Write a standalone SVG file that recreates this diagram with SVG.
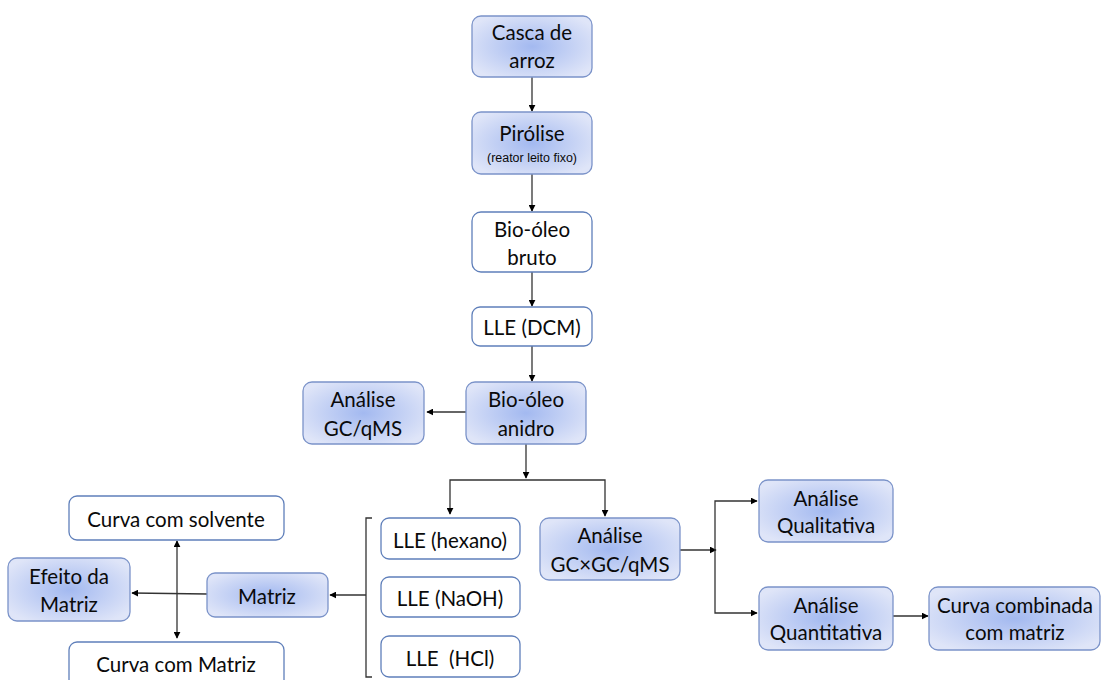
<svg xmlns="http://www.w3.org/2000/svg" width="1103" height="680" viewBox="0 0 1103 680">
<defs>
<radialGradient id="g" cx="50%" cy="50%" r="60%">
<stop offset="0" stop-color="#a3b9f0"/>
<stop offset="1" stop-color="#dfe5f8"/>
</radialGradient>
<marker id="a" viewBox="0 0 10 10" refX="9" refY="5" markerWidth="7" markerHeight="7" orient="auto-start-reverse" markerUnits="userSpaceOnUse">
<path d="M0,0 L10,5 L0,10 z" fill="#000"/>
</marker>
<style>
.b{fill:url(#g);stroke:#7b93c9;stroke-width:1.3}
.w{fill:#fff;stroke:#5f7fba;stroke-width:1.3}
text{font-family:Lato,"Open Sans","Liberation Sans",sans-serif;font-size:20.5px;fill:#0a0a0a;text-anchor:middle;dominant-baseline:central}
.c{stroke:#333;stroke-width:1.3;fill:none}
.s{font-family:"Liberation Sans",sans-serif;font-size:12px}
</style>
</defs>
<rect width="1103" height="680" fill="#fff"/>
<g id="connectors">
<line class="c" x1="532" y1="77" x2="532" y2="111" marker-end="url(#a)"/>
<line class="c" x1="532" y1="174" x2="532" y2="211" marker-end="url(#a)"/>
<line class="c" x1="532" y1="272" x2="532" y2="306" marker-end="url(#a)"/>
<line class="c" x1="532" y1="346" x2="532" y2="381" marker-end="url(#a)"/>
<line class="c" x1="466" y1="412" x2="427" y2="412" marker-end="url(#a)"/>
<line class="c" x1="526" y1="444" x2="526" y2="478" marker-end="url(#a)"/>
<polyline class="c" points="450,514 450,480 605,480 605,516" marker-start="url(#a)" marker-end="url(#a)"/>
<polyline class="c" points="372,518 366,518 366,677 372,677"/>
<line class="c" x1="366" y1="595" x2="330" y2="595" marker-end="url(#a)"/>
<line class="c" x1="207" y1="594" x2="132" y2="593" marker-end="url(#a)"/>
<line class="c" x1="177" y1="541" x2="177" y2="638" marker-start="url(#a)" marker-end="url(#a)"/>
<line class="c" x1="680" y1="550" x2="716" y2="550" marker-end="url(#a)"/>
<polyline class="c" points="757,501 715,501 715,613 757,613" marker-start="url(#a)" marker-end="url(#a)"/>
<line class="c" x1="893" y1="616" x2="928" y2="616" marker-end="url(#a)"/>
</g>
<g id="casca"><rect class="b" x="472" y="16" width="120" height="61" rx="9"/><text x="532" y="32">Casca de</text><text x="532" y="60">arroz</text></g>
<g id="pirolise"><rect class="b" x="472" y="112" width="120" height="62" rx="9"/><text x="532" y="133">Pirólise</text><text class="s" x="532" y="158" textLength="90" lengthAdjust="spacingAndGlyphs">(reator leito fixo)</text></g>
<g id="bruto"><rect class="w" x="472" y="212" width="120" height="60" rx="9"/><text x="532" y="229">Bio-óleo</text><text x="532" y="257">bruto</text></g>
<g id="dcm"><rect class="w" x="472" y="307" width="120" height="39" rx="8"/><text x="532" y="327">LLE (DCM)</text></g>
<g id="anidro"><rect class="b" x="466" y="382" width="120" height="62" rx="9"/><text x="526" y="399">Bio-óleo</text><text x="526" y="428">anidro</text></g>
<g id="gcqms"><rect class="b" x="303" y="382" width="121" height="62" rx="9"/><text x="363" y="399">Análise</text><text x="363" y="428">GC/qMS</text></g>
<g id="hexano"><rect class="w" x="381" y="518" width="139" height="41" rx="8"/><text x="450" y="540">LLE (hexano)</text></g>
<g id="naoh"><rect class="w" x="381" y="577" width="139" height="40" rx="8"/><text x="450" y="598">LLE (NaOH)</text></g>
<g id="hcl"><rect class="w" x="381" y="636" width="139" height="41" rx="8"/><text x="450" y="658" xml:space="preserve">LLE  (HCl)</text></g>
<g id="gcxgc"><rect class="b" x="540" y="518" width="140" height="62" rx="9"/><text x="610" y="535">Análise</text><text x="610" y="564">GC×GC/qMS</text></g>
<g id="quali"><rect class="b" x="759" y="480" width="134" height="62" rx="9"/><text x="826" y="498">Análise</text><text x="826" y="525">Qualitativa</text></g>
<g id="quanti"><rect class="b" x="759" y="587" width="134" height="63" rx="9"/><text x="826" y="605">Análise</text><text x="826" y="632">Quantitativa</text></g>
<g id="combinada"><rect class="b" x="929" y="587" width="171" height="63" rx="9"/><text x="1015" y="605">Curva combinada</text><text x="1015" y="632">com matriz</text></g>
<g id="solvente"><rect class="w" x="69" y="496" width="215" height="44" rx="8"/><text x="176" y="519">Curva com solvente</text></g>
<g id="efeito"><rect class="b" x="8" y="558" width="122" height="63" rx="9"/><text x="69" y="576">Efeito da</text><text x="69" y="604">Matriz</text></g>
<g id="matriz"><rect class="b" x="207" y="573" width="121" height="44" rx="8"/><text x="267" y="596">Matriz</text></g>
<g id="curvamatriz"><rect class="w" x="69" y="642" width="215" height="50" rx="8"/><text x="176" y="664">Curva com Matriz</text></g>
</svg>
